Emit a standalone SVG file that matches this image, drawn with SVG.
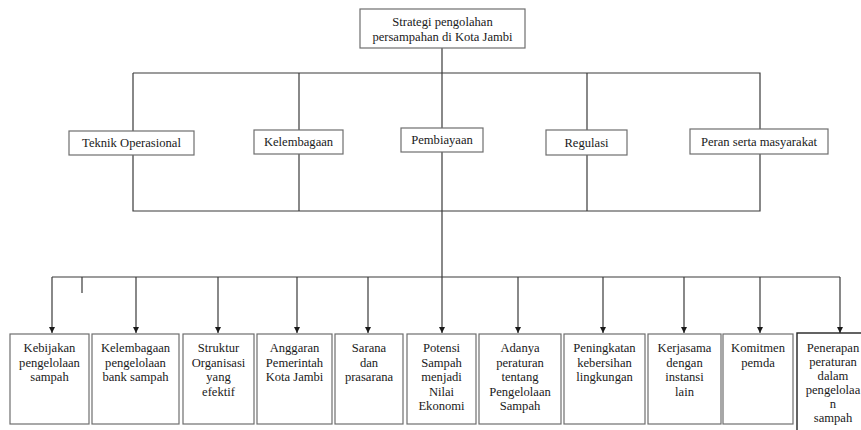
<svg xmlns="http://www.w3.org/2000/svg" width="861" height="430" viewBox="0 0 861 430" font-family="'Liberation Serif', 'DejaVu Serif', serif">
<style>
.box{fill:#fff;stroke:#6e6e6e;stroke-width:1.2}
.dark{fill:#fff;stroke:#222;stroke-width:1.4}
.ln{stroke:#3a3a3a;stroke-width:1.2;fill:none}
.t{font-family:'Liberation Serif','DejaVu Serif',serif;font-size:12.6px;fill:#1a1a1a;text-anchor:middle}
</style>
<defs>
<marker id="ah" markerWidth="7" markerHeight="6" refX="6" refY="3" orient="auto" markerUnits="userSpaceOnUse">
<path d="M0,0 L6,3 L0,6 Z" fill="#1a1a1a"/>
</marker>
</defs>
<rect width="861" height="430" fill="#fff"/>
<g id="connectors">
<line class="ln" x1="442" y1="48" x2="442" y2="73"/>
<polyline class="ln" points="133,73 760,73 760,211 133,211 133,73"/>
<line class="ln" x1="299" y1="73" x2="299" y2="211"/>
<line class="ln" x1="442" y1="73" x2="442" y2="277"/>
<line class="ln" x1="587" y1="73" x2="587" y2="211"/>
<line class="ln" x1="52" y1="277" x2="840" y2="277"/>
<line class="ln" x1="82" y1="277" x2="82" y2="293"/>
<g marker-end="url(#ah)">
<line class="ln" x1="52" y1="277" x2="52" y2="333"/>
<line class="ln" x1="136" y1="277" x2="136" y2="333"/>
<line class="ln" x1="218" y1="277" x2="218" y2="333"/>
<line class="ln" x1="297" y1="277" x2="297" y2="333"/>
<line class="ln" x1="368" y1="277" x2="368" y2="333"/>
<line class="ln" x1="442" y1="277" x2="442" y2="333"/>
<line class="ln" x1="518" y1="277" x2="518" y2="333"/>
<line class="ln" x1="603" y1="277" x2="603" y2="333"/>
<line class="ln" x1="684" y1="277" x2="684" y2="333"/>
<line class="ln" x1="760" y1="277" x2="760" y2="333"/>
<line class="ln" x1="840" y1="277" x2="840" y2="333"/>
</g>
</g>
<g class="t">
<g id="root">
<rect class="box" x="360" y="9" width="165" height="39"/>
<text x="442.5" y="26">Strategi pengolahan</text>
<text x="442.5" y="41">persampahan di Kota Jambi</text>
</g>
<g id="teknik">
<rect class="box" x="69" y="131" width="125" height="24"/>
<text x="131.5" y="147">Teknik Operasional</text>
</g>
<g id="kelembagaan">
<rect class="box" x="254" y="130" width="89" height="24"/>
<text x="298.5" y="146">Kelembagaan</text>
</g>
<g id="pembiayaan">
<rect class="box" x="401" y="128" width="82" height="24"/>
<text x="442" y="144">Pembiayaan</text>
</g>
<g id="regulasi">
<rect class="box" x="546" y="130" width="81" height="25"/>
<text x="586.5" y="147">Regulasi</text>
</g>
<g id="peran">
<rect class="box" x="690" y="129" width="138" height="25"/>
<text x="759" y="146">Peran serta masyarakat</text>
</g>
<g id="b1">
<rect class="box" x="10" y="334" width="79" height="90"/>
<text x="49.5" y="352">Kebijakan</text>
<text x="49.5" y="366.5">pengelolaan</text>
<text x="49.5" y="381">sampah</text>
</g>
<g id="b2">
<rect class="box" x="92" y="334" width="87" height="90"/>
<text x="135.5" y="352">Kelembagaan</text>
<text x="135.5" y="366.5">pengelolaan</text>
<text x="135.5" y="381">bank sampah</text>
</g>
<g id="b3">
<rect class="box" x="183" y="334" width="71" height="90"/>
<text x="218.5" y="352">Struktur</text>
<text x="218.5" y="366.5">Organisasi</text>
<text x="218.5" y="381">yang</text>
<text x="218.5" y="395.5">efektif</text>
</g>
<g id="b4">
<rect class="box" x="257" y="334" width="75" height="90"/>
<text x="294.5" y="352">Anggaran</text>
<text x="294.5" y="366.5">Pemerintah</text>
<text x="294.5" y="381">Kota Jambi</text>
</g>
<g id="b5">
<rect class="box" x="335" y="334" width="68" height="90"/>
<text x="369" y="352">Sarana</text>
<text x="369" y="366.5">dan</text>
<text x="369" y="381">prasarana</text>
</g>
<g id="b6">
<rect class="box" x="407" y="334" width="69" height="90"/>
<text x="441.5" y="352">Potensi</text>
<text x="441.5" y="366.5">Sampah</text>
<text x="441.5" y="381">menjadi</text>
<text x="441.5" y="395.5">Nilai</text>
<text x="441.5" y="410">Ekonomi</text>
</g>
<g id="b7">
<rect class="box" x="479" y="334" width="82" height="90"/>
<text x="520" y="352">Adanya</text>
<text x="520" y="366.5">peraturan</text>
<text x="520" y="381">tentang</text>
<text x="520" y="395.5">Pengelolaan</text>
<text x="520" y="410">Sampah</text>
</g>
<g id="b8">
<rect class="box" x="564" y="334" width="81" height="90"/>
<text x="604.5" y="352">Peningkatan</text>
<text x="604.5" y="366.5">kebersihan</text>
<text x="604.5" y="381">lingkungan</text>
</g>
<g id="b9">
<rect class="box" x="648" y="334" width="73" height="90"/>
<text x="684.5" y="352">Kerjasama</text>
<text x="684.5" y="366.5">dengan</text>
<text x="684.5" y="381">instansi</text>
<text x="684.5" y="395.5">lain</text>
</g>
<g id="b10">
<rect class="box" x="723" y="334" width="70" height="90"/>
<text x="758" y="352">Komitmen</text>
<text x="758" y="366.5">pemda</text>
</g>
<g id="b11">
<rect class="dark" x="797" y="333" width="75" height="110"/>
<text x="833" y="352">Penerapan</text>
<text x="833" y="366">peraturan</text>
<text x="833" y="380">dalam</text>
<text x="833" y="394">pengelolaa</text>
<text x="833" y="408">n</text>
<text x="833" y="422">sampah</text>
</g>
</g>
</svg>
